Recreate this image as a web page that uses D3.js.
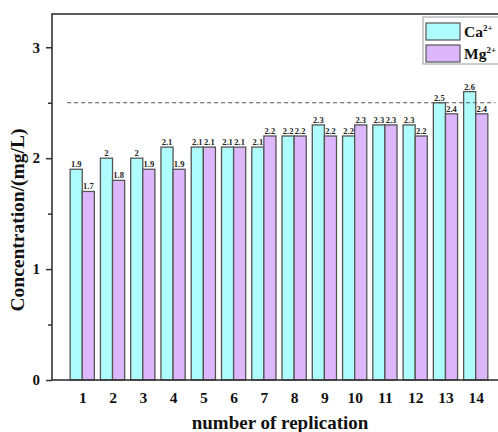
<!DOCTYPE html>
<html><head><meta charset="utf-8">
<script src="https://cdn.jsdelivr.net/npm/d3@7/dist/d3.min.js"></script>
<style>body{margin:0;background:#fff;} svg{display:block;font-family:"Liberation Serif","Times New Roman",serif;font-weight:bold;}</style>
</head><body>
<svg id="c" width="498" height="432"></svg>
<script>
const categories = ["1","2","3","4","5","6","7","8","9","10","11","12","13","14"];
const caValues = [1.9,2,2,2.1,2.1,2.1,2.1,2.2,2.3,2.2,2.3,2.3,2.5,2.6];
const mgValues = [1.7,1.8,1.9,1.9,2.1,2.1,2.2,2.2,2.2,2.3,2.3,2.2,2.4,2.4];
const yTicks = [0,1,2,3];
const yMinorTicks = [0.5,1.5,2.5];
const threshold = 2.5;
const seriesNames = ["Ca", "Mg"];
const seriesColors = ["#aefcfb", "#ddb7fb"];

const svg = d3.select("#c");
const L = 52, R = 506, T = 14, B = 380;
const x = d3.scaleLinear().domain([0, 15]).range([L, R]);
const y = d3.scaleLinear().domain([0, 3.3]).range([B, T]);
const bw = 0.4;

// bars
const series = [caValues, mgValues];
series.forEach((vals, s) => {
  const g = svg.append("g");
  vals.forEach((v, i) => {
    const cx = i + 1;
    const x0 = s === 0 ? x(cx - bw) : x(cx);
    const x1 = s === 0 ? x(cx) : x(cx + bw);
    g.append("rect").attr("x", x0).attr("y", y(v)).attr("width", x1 - x0).attr("height", y(0) - y(v))
      .attr("fill", seriesColors[s]).attr("stroke", "#555").attr("stroke-width", 1.3);
    g.append("text").attr("x", (x0 + x1) / 2).attr("y", y(v) - 2).attr("text-anchor", "middle")
      .attr("font-size", 8.5).attr("fill", "#222").text(String(v));
  });
});

// dashed threshold line
svg.append("line").attr("x1", x(0.5)).attr("x2", x(14.65)).attr("y1", y(threshold)).attr("y2", y(threshold))
  .attr("stroke", "#555").attr("stroke-width", 1.2).attr("stroke-dasharray", "4,3");

// frame
svg.append("rect").attr("x", L).attr("y", T).attr("width", R - L).attr("height", B - T)
  .attr("fill", "none").attr("stroke", "#333").attr("stroke-width", 1.6);

// y axis
const yAxis = d3.axisLeft(y).tickValues(yTicks).tickSize(6).tickFormat(d3.format("d"));
const ya = svg.append("g").attr("transform", `translate(${L},0)`).call(yAxis);
ya.select(".domain").remove();
ya.selectAll(".tick line").attr("stroke", "#333").attr("stroke-width", 1.5);
ya.selectAll(".tick text").attr("font-size", 15).attr("font-family", "Liberation Serif").attr("font-weight", "bold").attr("fill", "#111").attr("x", -12);
const yMinor = d3.axisLeft(y).tickValues(yMinorTicks).tickSize(4).tickFormat("");
const ym = svg.append("g").attr("transform", `translate(${L},0)`).call(yMinor);
ym.select(".domain").remove();
ym.selectAll(".tick line").attr("stroke", "#333").attr("stroke-width", 1.5);

// x axis labels
const xAxis = d3.axisBottom(x).tickValues(categories.map((c, i) => i + 1)).tickSize(0).tickFormat((d, i) => categories[i]);
const xa = svg.append("g").attr("transform", `translate(0,${B})`).call(xAxis);
xa.select(".domain").remove();
xa.selectAll(".tick text").attr("font-size", 15.5).attr("font-family", "Liberation Serif").attr("font-weight", "bold").attr("fill", "#111").attr("dy", "1.3em");

// axis titles
svg.append("text").attr("x", 280).attr("y", 429).attr("text-anchor", "middle").attr("font-size", 19).attr("fill", "#111").text("number of replication");
svg.append("text").attr("transform", "translate(24,220) rotate(-90)").attr("text-anchor", "middle").attr("font-size", 19.5).attr("fill", "#111").text("Concentration/(mg/L)");

// legend
const lg = svg.append("g");
lg.append("rect").attr("x", 423).attr("y", 17).attr("width", 100).attr("height", 47).attr("fill", "#fff").attr("stroke", "#999").attr("stroke-width", 1);
seriesNames.forEach((n, i) => {
  const yy = 23 + i * 22;
  lg.append("rect").attr("x", 426).attr("y", yy).attr("width", 34).attr("height", 17).attr("fill", seriesColors[i]).attr("stroke", "#555").attr("stroke-width", 1.2);
  const t = lg.append("text").attr("x", 464).attr("y", yy + 14).attr("font-size", 15.5).attr("fill", "#111");
  t.append("tspan").text(n);
  t.append("tspan").attr("font-size", 9).attr("dy", -6).text("2+");
});
</script>
</body></html>
